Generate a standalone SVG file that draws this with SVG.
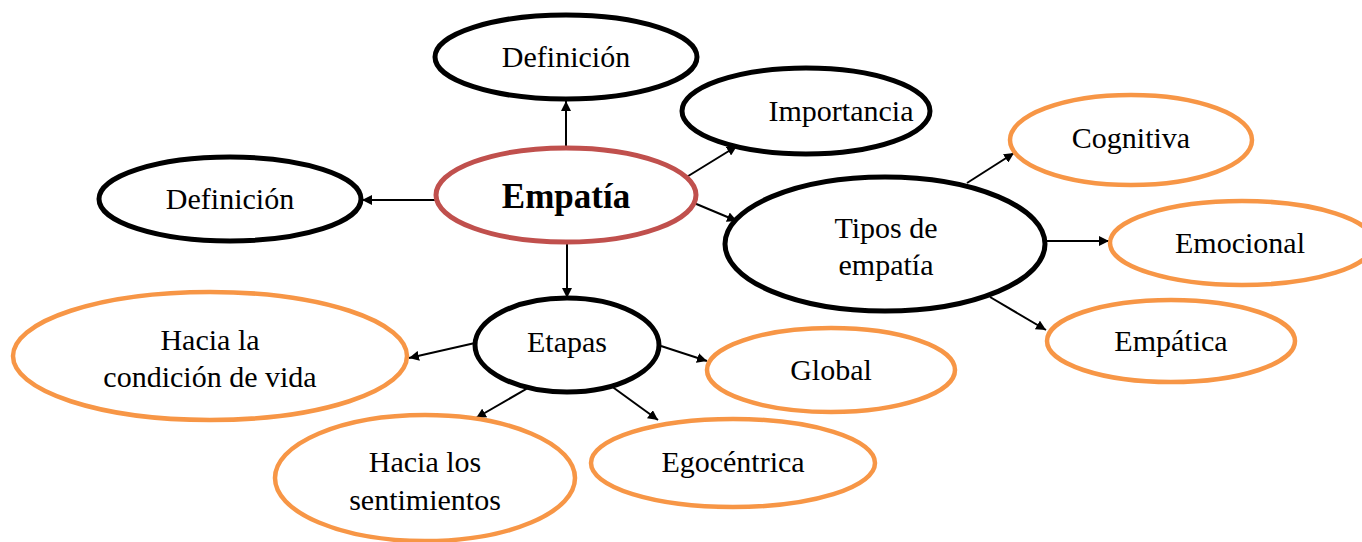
<svg xmlns="http://www.w3.org/2000/svg" width="1362" height="542" viewBox="0 0 1362 542">
<style>
.n{fill:#fff;stroke:#000;stroke-width:5}
.o{fill:#fff;stroke:#F79646;stroke-width:4.5}
.r{fill:#fff;stroke:#C0504D;stroke-width:5}
text{font-family:"Liberation Serif","Times New Roman",serif;font-size:30px;fill:#000;text-anchor:middle}
.b{font-weight:bold;font-size:35px}
.c line{stroke:#000;stroke-width:2;marker-end:url(#a)}
</style>
<defs>
<marker id="a" viewBox="0 0 10 10" refX="10" refY="5" markerWidth="5" markerHeight="5" orient="auto" markerUnits="strokeWidth">
<path d="M0,0 L10,5 L0,10 z" fill="#000"/>
</marker>
</defs>
<rect width="1362" height="542" fill="#fff"/>
<g class="c" id="connectors">
<line x1="566" y1="147" x2="566" y2="101"/>
<line x1="436" y1="200" x2="362" y2="200"/>
<line x1="685" y1="178" x2="737" y2="146"/>
<line x1="694" y1="203" x2="737" y2="221"/>
<line x1="567" y1="243" x2="567" y2="298"/>
<line x1="967" y1="183" x2="1014" y2="153"/>
<line x1="1047" y1="241" x2="1109" y2="241"/>
<line x1="990" y1="297" x2="1046" y2="330"/>
<line x1="475" y1="343" x2="409" y2="358"/>
<line x1="661" y1="346" x2="707" y2="361"/>
<line x1="540" y1="381" x2="476" y2="418"/>
<line x1="596" y1="375" x2="658" y2="420"/>
</g>
<g id="definicion-top"><ellipse class="n" cx="566" cy="57" rx="131" ry="42"/><text x="566" y="67">Definición</text></g>
<g id="empatia"><ellipse class="r" cx="566" cy="195" rx="130" ry="47"/><text class="b" x="566" y="208">Empatía</text></g>
<g id="definicion-left"><ellipse class="n" cx="230" cy="199" rx="131" ry="42"/><text x="230" y="209">Definición</text></g>
<g id="importancia"><ellipse class="n" cx="806" cy="111" rx="124" ry="43"/><text x="841" y="121">Importancia</text></g>
<g id="tipos"><ellipse class="n" cx="885" cy="244" rx="160" ry="67"/><text x="886" y="238">Tipos de</text><text x="886" y="275">empatía</text></g>
<g id="cognitiva"><ellipse class="o" cx="1131" cy="140" rx="121" ry="45"/><text x="1131" y="148">Cognitiva</text></g>
<g id="emocional"><ellipse class="o" cx="1242" cy="243" rx="132" ry="42"/><text x="1240" y="253">Emocional</text></g>
<g id="empatica"><ellipse class="o" cx="1171" cy="341" rx="124" ry="41"/><text x="1171" y="351">Empática</text></g>
<g id="etapas"><ellipse class="n" cx="567" cy="345" rx="92" ry="47"/><text x="567" y="352">Etapas</text></g>
<g id="hacia-la"><ellipse class="o" cx="210" cy="356" rx="197" ry="64"/><text x="210" y="350">Hacia la</text><text x="210" y="387">condición de vida</text></g>
<g id="global"><ellipse class="o" cx="831" cy="370" rx="124" ry="42"/><text x="831" y="380">Global</text></g>
<g id="hacia-los"><ellipse class="o" cx="425" cy="478" rx="150" ry="63"/><text x="425" y="472">Hacia los</text><text x="425" y="510">sentimientos</text></g>
<g id="egocentrica"><ellipse class="o" cx="733" cy="463" rx="142" ry="44"/><text x="733" y="472">Egocéntrica</text></g>
</svg>
